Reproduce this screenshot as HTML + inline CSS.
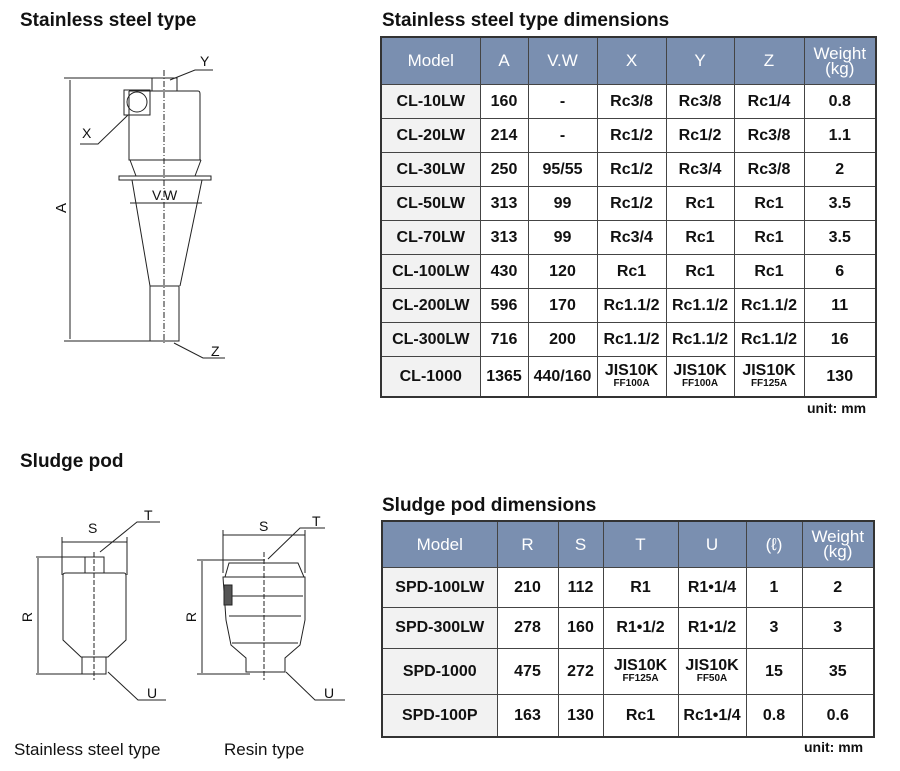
<!DOCTYPE html>
<html><head><meta charset="utf-8"><style>
body{margin:0;width:900px;height:771px;background:#fff;font-family:"Liberation Sans",sans-serif;position:relative;overflow:hidden;color:#111}
.t{position:absolute;font-weight:bold;font-size:19px;white-space:nowrap}
table{position:absolute;border-collapse:collapse;border:2px solid #333;font-size:16px;table-layout:fixed}
td,th{border:1px solid #444;text-align:center;padding:0;line-height:15px}
th{background:#7a8fb0;color:#fff;font-weight:normal;font-size:17px}
td{font-weight:bold}
td:first-child{background:#f2f2f2}
small{font-size:10px;display:block;line-height:11px}
.u{position:absolute;font-size:14px;font-weight:bold}
.cap{position:absolute;font-size:17px}
svg{position:absolute;left:0;top:0}
</style></head><body>
<div class="t" style="left:20px;top:10px">Stainless steel type</div>
<div class="t" style="left:382px;top:10px">Stainless steel type dimensions</div>
<div class="t" style="left:20px;top:451px">Sludge pod</div>
<div class="t" style="left:382px;top:495px">Sludge pod dimensions</div>

<table style="left:380px;top:36px;width:497px">
<colgroup><col style="width:99px"><col style="width:48px"><col style="width:69px"><col style="width:69px"><col style="width:68px"><col style="width:70px"><col style="width:72px"></colgroup>
<tr style="height:47px"><th>Model</th><th>A</th><th>V.W</th><th>X</th><th>Y</th><th>Z</th><th>Weight<br>(kg)</th></tr>
<tr style="height:34px"><td>CL-10LW</td><td>160</td><td>-</td><td>Rc3/8</td><td>Rc3/8</td><td>Rc1/4</td><td>0.8</td></tr>
<tr style="height:34px"><td>CL-20LW</td><td>214</td><td>-</td><td>Rc1/2</td><td>Rc1/2</td><td>Rc3/8</td><td>1.1</td></tr>
<tr style="height:34px"><td>CL-30LW</td><td>250</td><td>95/55</td><td>Rc1/2</td><td>Rc3/4</td><td>Rc3/8</td><td>2</td></tr>
<tr style="height:34px"><td>CL-50LW</td><td>313</td><td>99</td><td>Rc1/2</td><td>Rc1</td><td>Rc1</td><td>3.5</td></tr>
<tr style="height:34px"><td>CL-70LW</td><td>313</td><td>99</td><td>Rc3/4</td><td>Rc1</td><td>Rc1</td><td>3.5</td></tr>
<tr style="height:34px"><td>CL-100LW</td><td>430</td><td>120</td><td>Rc1</td><td>Rc1</td><td>Rc1</td><td>6</td></tr>
<tr style="height:34px"><td>CL-200LW</td><td>596</td><td>170</td><td>Rc1.1/2</td><td>Rc1.1/2</td><td>Rc1.1/2</td><td>11</td></tr>
<tr style="height:34px"><td>CL-300LW</td><td>716</td><td>200</td><td>Rc1.1/2</td><td>Rc1.1/2</td><td>Rc1.1/2</td><td>16</td></tr>
<tr style="height:41px"><td>CL-1000</td><td>1365</td><td>440/160</td><td>JIS10K<small>FF100A</small></td><td>JIS10K<small>FF100A</small></td><td>JIS10K<small>FF125A</small></td><td>130</td></tr>
</table>
<div class="u" style="left:807px;top:400px">unit: mm</div>

<table style="left:381px;top:520px;width:492px">
<colgroup><col style="width:115px"><col style="width:61px"><col style="width:45px"><col style="width:75px"><col style="width:68px"><col style="width:56px"><col style="width:72px"></colgroup>
<tr style="height:46px"><th>Model</th><th>R</th><th>S</th><th>T</th><th>U</th><th>(ℓ)</th><th>Weight<br>(kg)</th></tr>
<tr style="height:40px"><td>SPD-100LW</td><td>210</td><td>112</td><td>R1</td><td>R1•1/4</td><td>1</td><td>2</td></tr>
<tr style="height:41px"><td>SPD-300LW</td><td>278</td><td>160</td><td>R1•1/2</td><td>R1•1/2</td><td>3</td><td>3</td></tr>
<tr style="height:46px"><td>SPD-1000</td><td>475</td><td>272</td><td>JIS10K<small>FF125A</small></td><td>JIS10K<small>FF50A</small></td><td>15</td><td>35</td></tr>
<tr style="height:43px"><td>SPD-100P</td><td>163</td><td>130</td><td>Rc1</td><td>Rc1•1/4</td><td>0.8</td><td>0.6</td></tr>
</table>
<div class="u" style="left:804px;top:739px">unit: mm</div>
<div class="cap" style="left:14px;top:740px">Stainless steel type</div>
<div class="cap" style="left:224px;top:740px">Resin type</div>

<svg width="900" height="771" fill="none" stroke="#222" stroke-width="1">
<g>
<line x1="64" y1="78" x2="152" y2="78"/><line x1="64" y1="341" x2="150" y2="341"/>
<line x1="70" y1="80" x2="70" y2="339"/>
<text x="66" y="208" fill="#111" stroke="none" font-size="15" transform="rotate(-90 66 208)" text-anchor="middle">A</text>
<rect x="152" y="78" width="25" height="13"/>
<path d="M129 91 H198 Q200 91 200 94 V160 H129 V91"/>
<rect x="124" y="90" width="26" height="25"/><circle cx="137" cy="102" r="10"/>
<path d="M130 160 L201 160 M119 176 H211 V180 H119 Z"/>
<path d="M130 160 L136 176 M201 160 L195 176"/>
<path d="M132 180 L150 286 M202 180 L180 286"/>
<rect x="150" y="286" width="29" height="55"/>
<line x1="164" y1="70" x2="164" y2="345" stroke-dasharray="6,2,1,2"/>
<line x1="130" y1="203" x2="202" y2="203"/>
<text x="152" y="200" fill="#111" stroke="none" font-size="14">V.W</text>
<path d="M170 80 L195 70 H213"/><text x="200" y="66" fill="#111" stroke="none" font-size="14">Y</text>
<path d="M128 115 L98 144 H80"/><text x="82" y="138" fill="#111" stroke="none" font-size="14">X</text>
<path d="M174 343 L203 358 H225"/><text x="211" y="356" fill="#111" stroke="none" font-size="14">Z</text>
</g>
<g>
<line x1="36" y1="557" x2="101" y2="557"/><line x1="36" y1="674" x2="82" y2="674"/>
<line x1="38" y1="558" x2="38" y2="673"/>
<text x="32" y="617" fill="#111" stroke="none" font-size="14" transform="rotate(-90 32 617)" text-anchor="middle">R</text>
<line x1="62" y1="542" x2="127" y2="542"/><line x1="62" y1="537" x2="62" y2="575"/><line x1="127" y1="537" x2="127" y2="575"/>
<text x="88" y="533" fill="#111" stroke="none" font-size="14">S</text>
<rect x="85" y="557" width="19" height="16"/>
<path d="M63 575 Q63 573 66 573 H124 Q126 573 126 576 V640 L108 657 H81 L63 640 Z"/>
<rect x="82" y="657" width="24" height="17"/>
<line x1="94" y1="552" x2="94" y2="680" stroke-dasharray="5,2"/>
<path d="M100 552 L137 522 H160"/><text x="144" y="520" fill="#111" stroke="none" font-size="14">T</text>
<path d="M108 672 L138 700 H166"/><text x="147" y="698" fill="#111" stroke="none" font-size="14">U</text>
</g>
<g>
<line x1="197" y1="560" x2="265" y2="560"/><line x1="197" y1="674" x2="250" y2="674"/>
<line x1="202" y1="561" x2="202" y2="673"/>
<text x="196" y="617" fill="#111" stroke="none" font-size="14" transform="rotate(-90 196 617)" text-anchor="middle">R</text>
<line x1="223" y1="535" x2="305" y2="535"/><line x1="223" y1="530" x2="223" y2="573"/><line x1="305" y1="530" x2="305" y2="573"/>
<text x="259" y="531" fill="#111" stroke="none" font-size="14">S</text>
<path d="M229 563 H298 L304 577 H225 Z"/>
<path d="M223 577 H305 V620 L300 645 L285 658 V672 H246 V658 L231 645 L226 620 Z"/>
<line x1="226" y1="596" x2="303" y2="596"/><line x1="229" y1="616" x2="301" y2="616"/><line x1="232" y1="643" x2="298" y2="643"/>
<rect x="224" y="585" width="8" height="20" fill="#555"/>
<line x1="264" y1="552" x2="264" y2="680" stroke-dasharray="5,2"/>
<path d="M268 559 L300 528 H325"/><text x="312" y="526" fill="#111" stroke="none" font-size="14">T</text>
<path d="M286 672 L315 700 H345"/><text x="324" y="698" fill="#111" stroke="none" font-size="14">U</text>
</g>
</svg>
</body></html>
